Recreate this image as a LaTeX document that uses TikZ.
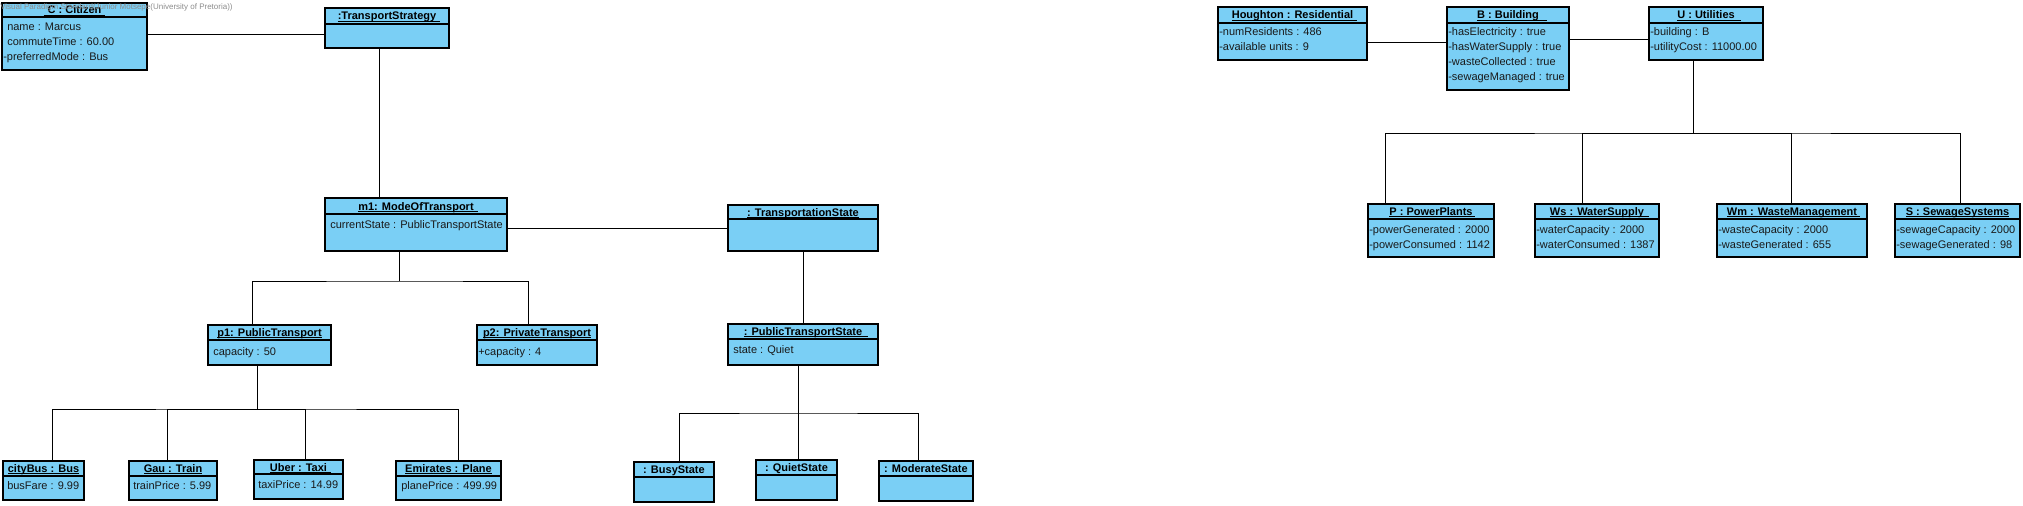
\documentclass[tikz,border=0pt]{standalone}
\usepackage{fontspec}
\setmainfont{Liberation Sans}
\usetikzlibrary{calc}
\definecolor{objfill}{RGB}{122,207,245}
\newcommand\uln[3]{%
  \setbox0\hbox{#1}%
  \rlap{\kern-#2pt\rule[-1.3pt]{\dimexpr\wd0+#2pt+#3pt\relax}{0.65pt}}\box0}
\newcommand\obj[7]{%
  \node[obj, anchor=north west, minimum width={(#4-#2)*0.75pt}, minimum height={(#5-#3)*0.75pt}] (#1) at (#2,#3) {};
  \draw[hdrline] (#2,#6) -- (#4,#6);
  \node[ttl] (#1-t) at ({(#2+#4)/2},{(#3+#6)/2+4}) {#7};}
\newcommand\att[4]{\node[attr] (#1) at (#2,#3) {#4};}
\begin{document}
\begin{tikzpicture}[x=0.75pt,y=-0.75pt,
  obj/.style={draw=black, fill=objfill, line width=0.8pt, inner sep=0pt, outer sep=0pt, rectangle},
  hdrline/.style={draw=black, line width=0.8pt},
  ttl/.style={font=\fontsize{8.25pt}{10pt}\selectfont\bfseries, inner sep=0pt, anchor=base},
  attr/.style={font=\fontsize{8.25pt}{10pt}\selectfont, inner sep=0pt, anchor=base west, text=black!90},
  conn/.style={draw=black, line width=0.75pt}]
\useasboundingbox (0,0) rectangle (2023,506);

% ---- left part ----
\obj{cit}{2}{3}{147}{70}{17}{\uln{C : Citizen}{3}{3}}
\att{cit-a1}{7}{31}{name : Marcus}
\att{cit-a2}{7}{46}{commuteTime : 60.00}
\att{cit-a3}{3}{61}{-preferredMode : Bus}

\obj{ts}{325}{8}{449}{48}{24}{\uln{:TransportStrategy}{0}{3}}

\obj{m1}{325}{198}{507}{251}{214}{\uln{m1: ModeOfTransport}{0}{3}}
\att{m1-a1}{330}{228}{currentState : PublicTransportState}

\obj{tst}{728}{205}{878}{251}{219}{\uln{: TransportationState}{0}{0}}

\obj{p1}{208}{325}{331}{365}{340}{\uln{p1: PublicTransport}{0}{0}}
\att{p1-a1}{213}{355}{capacity : 50}

\obj{p2}{477}{325}{597}{365}{340}{\uln{p2: PrivateTransport}{0}{0}}
\att{p2-a1}{478}{355}{+capacity : 4}

\obj{pts}{728}{324}{878}{365}{339}{\uln{: PublicTransportState}{0}{4}}
\att{pts-a1}{733}{353}{state : Quiet}

\obj{cb}{3}{461}{84}{500}{476}{\uln{cityBus : Bus}{0}{0}}
\att{cb-a1}{7}{489}{busFare : 9.99}

\obj{gau}{129}{461}{217}{500}{476}{\uln{Gau : Train}{0}{0}}
\att{gau-a1}{133}{489}{trainPrice : 5.99}

\obj{ub}{254}{460}{343}{499}{474}{\uln{Uber : Taxi}{0}{3}}
\att{ub-a1}{258}{488}{taxiPrice : 14.99}

\obj{em}{396}{461}{501}{500}{476}{\uln{Emirates : Plane}{0}{0}}
\att{em-a1}{401}{489}{planePrice : 499.99}

\obj{bs}{634}{462}{714}{502}{477}{: BusyState}
\obj{qs}{756}{460}{837}{500}{475}{: QuietState}
\obj{ms}{879}{461}{973}{501}{476}{: ModerateState}

% ---- right part ----
\obj{hr}{1218}{7}{1367}{60}{23}{\uln{Houghton : Residential}{0}{3}}
\att{hr-a1}{1219}{36}{-numResidents : 486}
\att{hr-a2}{1219}{51}{-available units : 9}

\obj{bd}{1447}{7}{1569}{90}{23}{\uln{B : Building}{0}{6}}
\att{bd-a1}{1448}{36}{-hasElectricity : true}
\att{bd-a2}{1448}{51}{-hasWaterSupply : true}
\att{bd-a3}{1448}{66}{-wasteCollected : true}
\att{bd-a4}{1448}{81}{-sewageManaged : true}

\obj{ut}{1649}{7}{1763}{60}{23}{\uln{U : Utilities}{0}{5}}
\att{ut-a1}{1650}{36}{-building : B}
\att{ut-a2}{1650}{51}{-utilityCost : 11000.00}

\obj{pp}{1368}{204}{1494}{257}{219}{\uln{P : PowerPlants}{0}{2}}
\att{pp-a1}{1369}{233}{-powerGenerated : 2000}
\att{pp-a2}{1369}{248}{-powerConsumed : 1142}

\obj{ws}{1535}{204}{1659}{257}{219}{\uln{Ws : WaterSupply}{0}{4}}
\att{ws-a1}{1536}{233}{-waterCapacity : 2000}
\att{ws-a2}{1536}{248}{-waterConsumed : 1387}

\obj{wm}{1717}{204}{1867}{257}{219}{\uln{Wm : WasteManagement}{0}{2}}
\att{wm-a1}{1718}{233}{-wasteCapacity : 2000}
\att{wm-a2}{1718}{248}{-wasteGenerated : 655}

\obj{ss}{1895}{204}{2020}{257}{219}{\uln{S : SewageSystems}{0}{0}}
\att{ss-a1}{1896}{233}{-sewageCapacity : 2000}
\att{ss-a2}{1896}{248}{-sewageGenerated : 98}

% ---- connectors (left) ----
\coordinate (yA) at (0,35);
\draw[conn] (cit.east |- yA) -- (ts.west |- yA);
\coordinate (xA) at (379,0);
\draw[conn] (ts.south -| xA) -- (m1.north -| xA);
\draw[conn] (m1.east |- tst.west) -- (tst.west);
\coordinate (jA) at (399,281);
\draw[conn] (m1.south -| jA) -- (jA);
\draw[conn] (p1.north west) ++(44,0) |- (jA) -| ($(p2.north west)+(51,0)$);
\coordinate (jB) at (257,409);
\draw[conn] (p1.south -| jB) -- (jB);
\draw[conn] (cb.north west) ++(49,0) |- (jB) -| ($(em.north west)+(62,0)$);
\draw[conn] (gau.north west) ++(38,0) |- (jB);
\draw[conn] (ub.north west) ++(51,0) |- (jB);
\draw[conn] (tst.south) -- (pts.north);
\coordinate (jC) at (798,413);
\draw[conn] (pts.south -| jC) -- (qs.north -| jC);
\draw[conn] (bs.north west) ++(45,0) |- (jC) -| ($(ms.north west)+(39,0)$);

% ---- connectors (right) ----
\coordinate (yB) at (0,43);
\draw[conn] (hr.east |- yB) -- (bd.west |- yB);
\coordinate (yC) at (0,40);
\draw[conn] (bd.east |- yC) -- (ut.west |- yC);
\coordinate (jD) at (1693,134);
\draw[conn] (ut.south -| jD) -- (jD);
\draw[conn] (pp.north west) ++(17,0) |- (jD) -| ($(ss.north west)+(65,0)$);
\draw[conn] (ws.north west) ++(47,0) |- (jD);
\draw[conn] (wm.north west) ++(74,0) |- (jD);

% ---- watermark ----
\node[font=\fontsize{6pt}{7pt}\selectfont, text=black!45, anchor=west, inner sep=0pt] (wmk) at (0,7) {Visual Paradigm Standard(Junior Motsepe(University of Pretoria))};
\end{tikzpicture}
\end{document}
